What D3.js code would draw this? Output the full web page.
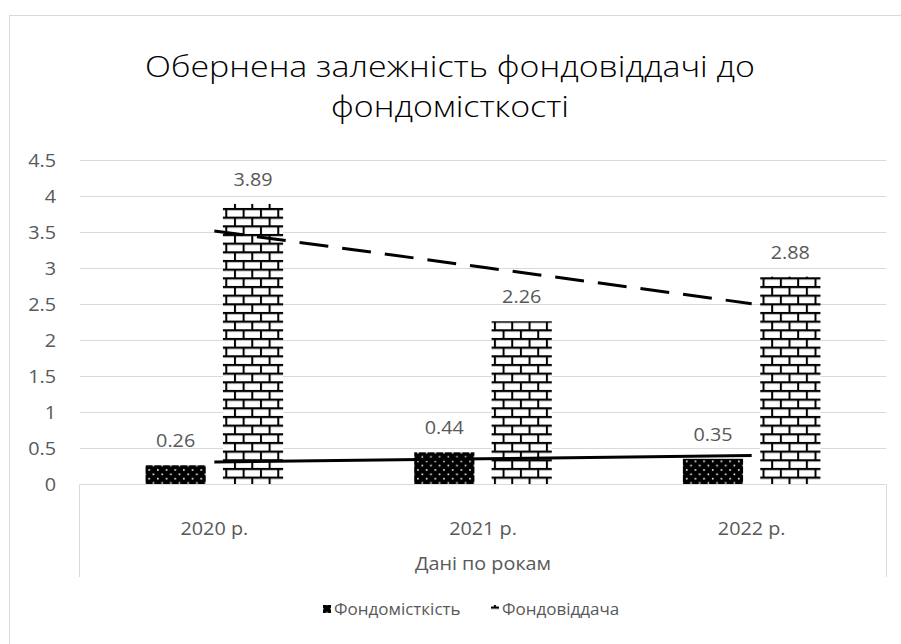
<!DOCTYPE html>
<html>
<head>
<meta charset="utf-8">
<script src="https://cdn.jsdelivr.net/npm/d3@7"></script>
<style>
  html, body { margin: 0; padding: 0; background: #fff; }
  svg { display: block; }
  text { font-family: "Open Sans", "Noto Sans", sans-serif; }
</style>
</head>
<body>
<div id="chart"></div>
<script>
// chart data
const years = ["2020 р.", "2021 р.", "2022 р."];
const groupLabel = "Дані по рокам";
const seriesNames = ["Фондомісткість", "Фондовіддача"];
const fondomistkist = [0.26, 0.44, 0.35];
const fondovidd = [3.89, 2.26, 2.88];
const yTicks = [0, 0.5, 1, 1.5, 2, 2.5, 3, 3.5, 4, 4.5];
const titleLines = ["Обернена залежність фондовіддачі до", "фондомісткості"];

const width = 901, height = 644;
const margin = { left: 80, right: 15, top: 160, bottom: 160 };
const SX = 1.1; // the reference text is drawn a bit wide
const grey = "#595959";
const lineGrey = "#d9d9d9";

const svg = d3.select("#chart").append("svg")
    .attr("width", width)
    .attr("height", height);

// patterns
const defs = svg.append("defs");
const dots = defs.append("pattern")
    .attr("id", "dots")
    .attr("patternUnits", "userSpaceOnUse")
    .attr("width", 8.67).attr("height", 8.67);
dots.append("rect").attr("width", 8.67).attr("height", 8.67).attr("fill", "#000");
dots.append("rect").attr("x", 1).attr("y", 1).attr("width", 1.6).attr("height", 1.6).attr("fill", "#fff");
dots.append("rect").attr("x", 5.33).attr("y", 5.33).attr("width", 1.6).attr("height", 1.6).attr("fill", "#fff");

const brick = defs.append("pattern")
    .attr("id", "brick")
    .attr("patternUnits", "userSpaceOnUse")
    .attr("width", 17.33).attr("height", 17.33);
brick.append("rect").attr("width", 17.33).attr("height", 17.33).attr("fill", "#fff");
brick.append("rect").attr("y", 0).attr("width", 17.33).attr("height", 2.2).attr("fill", "#000");
brick.append("rect").attr("y", 8.67).attr("width", 17.33).attr("height", 2.2).attr("fill", "#000");
brick.append("rect").attr("x", 0).attr("y", 0).attr("width", 2).attr("height", 8.67).attr("fill", "#000");
brick.append("rect").attr("x", 8.67).attr("y", 8.67).attr("width", 2).attr("height", 8.67).attr("fill", "#000");

// outer chart border
svg.append("rect")
    .attr("x", 9.5).attr("y", 15.5)
    .attr("width", 900).attr("height", 640)
    .attr("fill", "none")
    .attr("stroke", lineGrey);

function stretched(sel, x, y, sx) {
    return sel.attr("transform", "translate(" + x + "," + y + ") scale(" + (sx || SX) + ",1)");
}

// title
titleLines.forEach(function(t, i) {
    stretched(svg.append("text"), 450, 77 + i * 40, 1.17)
        .attr("text-anchor", "middle")
        .attr("font-size", 29)
        .attr("font-weight", 300)
        .attr("fill", "#000")
        .text(t);
});

const x = d3.scaleBand()
    .domain(years)
    .range([margin.left, width - margin.right])
    .paddingInner(0).paddingOuter(0);
const y = d3.scaleLinear()
    .domain([0, 4.5])
    .range([484, 160]);

const barW = x.bandwidth() * 0.224;
const barGap = x.bandwidth() * 0.064;

// gridlines
svg.append("g")
    .selectAll("line")
    .data(yTicks.filter(d => d > 0))
    .enter().append("line")
    .attr("x1", margin.left).attr("x2", width - margin.right)
    .attr("y1", d => Math.round(y(d)) + 0.5)
    .attr("y2", d => Math.round(y(d)) + 0.5)
    .attr("stroke", lineGrey)
    .attr("stroke-width", 1);

// y tick labels
yTicks.forEach(function(t) {
    stretched(svg.append("text"), 56, y(t) + 6.5)
        .attr("text-anchor", "end")
        .attr("font-size", 18)
        .attr("fill", grey)
        .text(String(t));
});

// category axis box
const axisY = Math.round(y(0)) + 0.5;
const axisG = svg.append("g").attr("stroke", lineGrey).attr("fill", "none");
axisG.append("line").attr("x1", margin.left).attr("x2", width - margin.right)
    .attr("y1", axisY).attr("y2", axisY);
axisG.append("line").attr("x1", margin.left - 0.5).attr("x2", margin.left - 0.5)
    .attr("y1", axisY).attr("y2", 577);
axisG.append("line").attr("x1", width - margin.right + 0.5).attr("x2", width - margin.right + 0.5)
    .attr("y1", axisY).attr("y2", 577);

// bars
const barData = [];
years.forEach(function(yr, i) {
    const cx = x(yr) + x.bandwidth() / 2;
    barData.push({ year: yr, v: fondomistkist[i], x0: cx - barGap / 2 - barW, fill: "url(#dots)" });
    barData.push({ year: yr, v: fondovidd[i], x0: cx + barGap / 2, fill: "url(#brick)" });
});
svg.append("g")
    .selectAll("rect")
    .data(barData)
    .enter().append("rect")
    .attr("x", d => d.x0)
    .attr("y", d => y(d.v))
    .attr("width", barW)
    .attr("height", d => y(0) - y(d.v))
    .attr("fill", d => d.fill);

// data labels
barData.forEach(function(d) {
    stretched(svg.append("text"), d.x0 + barW / 2, y(d.v) - 18)
        .attr("text-anchor", "middle")
        .attr("font-size", 18)
        .attr("fill", grey)
        .text(d.v.toFixed(2));
});

// linear trendlines (least squares over category index)
function trend(vals) {
    const xs = vals.map((v, i) => i + 1);
    const mx = d3.mean(xs), my = d3.mean(vals);
    const slope = d3.sum(xs, (xv, i) => (xv - mx) * (vals[i] - my)) / d3.sum(xs, xv => (xv - mx) * (xv - mx));
    return years.map((yr, i) => [x(yr) + x.bandwidth() / 2, y(my + slope * (i + 1 - mx))]);
}
const line = d3.line();
svg.append("path")
    .attr("d", line(trend(fondomistkist)))
    .attr("fill", "none")
    .attr("stroke", "#000")
    .attr("stroke-width", 3);
svg.append("path")
    .attr("d", line(trend(fondovidd)))
    .attr("fill", "none")
    .attr("stroke", "#000")
    .attr("stroke-width", 3)
    .attr("stroke-dasharray", "29,14");

// category labels
years.forEach(function(yr) {
    stretched(svg.append("text"), x(yr) + x.bandwidth() / 2, 535)
        .attr("text-anchor", "middle")
        .attr("font-size", 18)
        .attr("fill", grey)
        .text(yr);
});
stretched(svg.append("text"), (margin.left + width - margin.right) / 2, 570)
    .attr("text-anchor", "middle")
    .attr("font-size", 18)
    .attr("fill", grey)
    .text(groupLabel);

// legend
const legendItems = [
    { name: seriesNames[0], fill: "url(#dots)", mx: 323, tx: 334 },
    { name: seriesNames[1], fill: "url(#brick)", mx: 491, tx: 502 }
];
legendItems.forEach(function(d) {
    svg.append("rect")
        .attr("x", d.mx).attr("y", 605)
        .attr("width", 8).attr("height", 8)
        .attr("fill", d.fill);
    stretched(svg.append("text"), d.tx, 615, 1.03)
        .attr("font-size", 16.5)
        .attr("fill", grey)
        .text(d.name);
});
</script>
</body>
</html>
